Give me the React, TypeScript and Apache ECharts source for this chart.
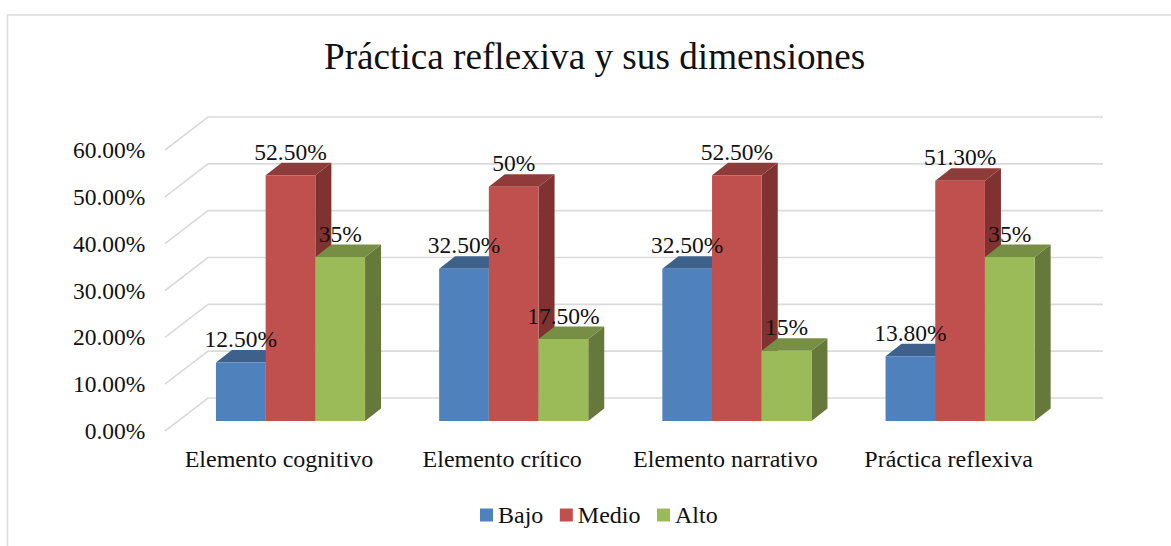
import React, { useEffect, useRef } from "react";
import * as echarts from "echarts";

const titleText = "Práctica reflexiva y sus dimensiones";
const categories = ["Elemento cognitivo", "Elemento crítico", "Elemento narrativo", "Práctica reflexiva"];
const seriesNames = ["Bajo", "Medio", "Alto"];
const bajo = [12.5, 32.5, 32.5, 13.8];
const medio = [52.5, 50, 52.5, 51.3];
const alto = [35, 17.5, 15, 35];
const bajoLabels = ["12.50%", "32.50%", "32.50%", "13.80%"];
const medioLabels = ["52.50%", "50%", "52.50%", "51.30%"];
const altoLabels = ["35%", "17.50%", "15%", "35%"];
const wallTicks = [0, 10, 20, 30, 40, 50, 60];

const FONT = "'Liberation Serif', 'Times New Roman', serif";
const TEXT = "#111111";
const DX = 16;
const DY = 12.5;
const BAR_W = 49.7;
const GRID_COLOR = "#DADADA";

const palette = [
  { front: "#4F81BD", top: "#3E618C", side: "#395A82" },
  { front: "#C0504D", top: "#8F3B39", side: "#7F3230" },
  { front: "#9BBB59", top: "#778F45", side: "#66793A" },
];

function barSeries(name: string, values: number[], idx: number) {
  const c = palette[idx];
  return {
    type: "custom",
    name,
    xAxisIndex: 0,
    yAxisIndex: 0,
    itemStyle: { color: c.front },
    data: values.map((v, i) => [i, v]),
    renderItem: (_p: any, api: any) => {
      const top = api.coord([api.value(0), api.value(1)]);
      const base = api.coord([api.value(0), 0]);
      const x0 = top[0] + (idx - 1.5) * BAR_W;
      const x1 = x0 + BAR_W;
      const y0 = top[1];
      const y1 = base[1];
      return {
        type: "group",
        children: [
          {
            type: "polygon",
            shape: { points: [[x1, y0], [x1 + DX, y0 - DY], [x1 + DX, y1 - DY], [x1, y1]] },
            style: { fill: c.side },
          },
          {
            type: "polygon",
            shape: { points: [[x0, y0], [x0 + DX, y0 - DY], [x1 + DX, y0 - DY], [x1, y0]] },
            style: { fill: c.top },
          },
          {
            type: "rect",
            shape: { x: x0, y: y0, width: BAR_W, height: y1 - y0 },
            style: { fill: c.front },
          },
        ],
      };
    },
  };
}

function labelSeries(values: number[], labels: string[], idx: number) {
  return {
    type: "custom",
    xAxisIndex: 0,
    yAxisIndex: 0,
    z: 10,
    silent: true,
    data: values.map((v, i) => [i, v]),
    renderItem: (p: any, api: any) => {
      const top = api.coord([api.value(0), api.value(1)]);
      return {
        type: "text",
        x: top[0] + (idx - 1) * BAR_W,
        y: top[1] - 23.5,
        style: {
          text: labels[p.dataIndex],
          font: `23.5px ${FONT}`,
          fill: TEXT,
          textAlign: "center",
          textVerticalAlign: "middle",
        },
      };
    },
  };
}

const wallSeries = {
  type: "custom",
  xAxisIndex: 1,
  yAxisIndex: 1,
  silent: true,
  z: 0,
  data: wallTicks.map((t) => [0, t]),
  renderItem: (p: any, api: any) => {
    const front = api.coord([0, api.value(1)])[1];
    const cs = p.coordSys;
    const xf = cs.x - 2.4;
    const xb = xf + 43;
    const xr = xb + 895;
    return {
      type: "polyline",
      shape: { points: [[xf, front], [xb, front - 33], [xr, front - 33]] },
      style: { fill: "none", stroke: GRID_COLOR, lineWidth: 1.6 },
    };
  },
};

export default function App() {
  const ref = useRef<HTMLDivElement>(null);
  useEffect(() => {
    const chart = echarts.init(ref.current!, undefined, { renderer: "svg" });
    chart.setOption({
      animation: false,
      backgroundColor: "#FFFFFF",
      textStyle: { fontFamily: FONT },
      title: {
        text: titleText,
        left: 324,
        top: 38,
        padding: 0,
        textStyle: { fontFamily: FONT, fontSize: 37.2, fontWeight: "normal", color: TEXT },
      },
      legend: {
        left: 480,
        top: 503,
        padding: 0,
        icon: "rect",
        itemWidth: 13,
        itemHeight: 13,
        itemGap: 16.5,
        data: seriesNames,
        textStyle: { fontFamily: FONT, fontSize: 24, color: TEXT },
      },
      grid: [
        { left: 178.9, width: 892.8, top: 140, height: 281 },
        { left: 167.4, width: 892.8, top: 150, height: 281 },
      ],
      xAxis: [
        {
          gridIndex: 0,
          type: "category",
          data: categories,
          axisLine: { show: false },
          axisTick: { show: false },
          axisLabel: { show: false },
        },
        {
          gridIndex: 1,
          type: "category",
          data: categories,
          axisLine: { show: false },
          axisTick: { show: false },
          axisLabel: { margin: 16, fontFamily: FONT, fontSize: 24, color: TEXT, interval: 0 },
        },
      ],
      yAxis: [
        {
          gridIndex: 0,
          type: "value",
          min: 0,
          max: 60,
          interval: 10,
          axisLine: { show: false },
          axisTick: { show: false },
          axisLabel: { show: false },
          splitLine: { show: false },
        },
        {
          gridIndex: 1,
          type: "value",
          min: 0,
          max: 60,
          interval: 10,
          axisLine: { show: false },
          axisTick: { show: false },
          splitLine: { show: false },
          axisLabel: {
            margin: 22,
            fontFamily: FONT,
            fontSize: 23.5,
            color: TEXT,
            formatter: (v: number) => `${v.toFixed(2)}%`,
          },
        },
      ],
      graphic: [
        {
          type: "polyline",
          silent: true,
          shape: { points: [[7.5, 546], [7.5, 15], [1171, 15]] },
          style: { fill: "none", stroke: "#DCDCDC", lineWidth: 1.5 },
        },
      ],
      series: [
        wallSeries,
        barSeries(seriesNames[0], bajo, 0),
        barSeries(seriesNames[1], medio, 1),
        barSeries(seriesNames[2], alto, 2),
        labelSeries(bajo, bajoLabels, 0),
        labelSeries(medio, medioLabels, 1),
        labelSeries(alto, altoLabels, 2),
      ],
    });
    return () => chart.dispose();
  }, []);
  return <div ref={ref} style={{ position: "absolute", left: 0, top: 0, width: 1171, height: 546 }} />;
}
